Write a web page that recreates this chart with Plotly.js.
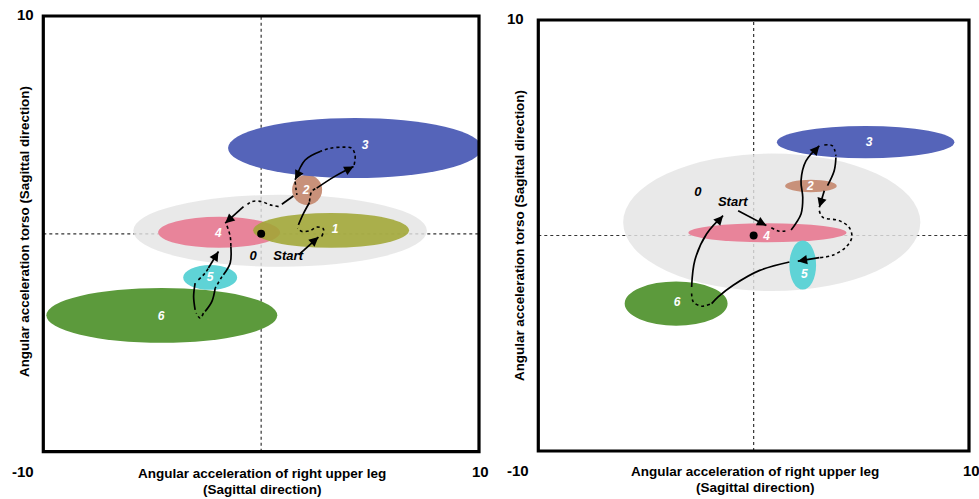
<!DOCTYPE html>
<html>
<head>
<meta charset="utf-8">
<script src="https://cdn.plot.ly/plotly-3.0.1.min.js"></script>
<style>html,body{margin:0;padding:0;background:#fff;}#chart{width:979px;height:499px;}</style>
</head>
<body>
<div id="chart"></div>
<script>
// ---------- DATA ----------
// Phase ellipses (centre, half-width, half-height) in data units, left panel
const L_phase = ['0', '4', '1', '2', '3', '5', '6'];
const L_cx = [0.87, -1.93, 3.21, 2.11, 4.31, -2.34, -4.56];
const L_cy = [0.14, 0.07, 0.16, 2.02, 3.94, -2.00, -3.74];
const L_rx = [6.74, 2.80, 3.58, 0.69, 5.83, 1.24, 5.30];
const L_ry = [1.65, 0.71, 0.80, 0.69, 1.38, 0.57, 1.26];
// label positions (left)
const L_lab = ['0', 'Start', '1', '2', '3', '4', '5', '6'];
const L_lx = [-0.37, 1.24, 3.39, 2.06, 4.77, -1.97, -2.34, -4.59];
const L_ly = [-1.06, -1.06, 0.18, 1.97, 4.04, 0.00, -2.02, -3.81];

// right panel
const R_phase = ['0', '4', '2', '3', '6', '5'];
const R_cx = [0.84, 0.64, 2.66, 5.20, -3.60, 2.28];
const R_cy = [0.61, 0.13, 2.30, 4.33, -3.16, -1.37];
const R_rx = [6.90, 3.67, 1.20, 4.12, 2.39, 0.62];
const R_ry = [3.19, 0.44, 0.29, 0.75, 1.03, 1.14];
const R_lab = ['0', 'Start', '2', '3', '4', '5', '6'];
const R_lx = [-2.59, -0.97, 2.63, 5.36, 0.60, 2.36, -3.56];
const R_ly = [1.99, 1.52, 2.26, 4.30, -0.05, -1.85, -3.14];

// Trajectory segments (solid = arrow, dot = dotted path), left panel
const L_segKind = ['solid', 'dot', 'solid', 'dot', 'solid', 'dot', 'solid', 'dot', 'solid', 'dot', 'solid', 'dot', 'solid', 'dot', 'solid', 'dot', 'solid', 'dot', 'solid'];
const L_segX = [
  [1.72, 2.63],
  [2.78, 2.86, 2.55, 2.25, 1.87, 1.67],
  [1.71, 1.95, 2.22],
  [2.22, 2.32, 2.55],
  [2.55, 3.40, 4.24],
  [4.27, 4.31, 4.16, 3.78, 3.17, 2.71],
  [2.71, 2.02, 1.56],
  [1.56, 1.60, 1.64],
  [1.48, 0.95],
  [0.80, 0.41, 0.03, -0.43, -0.73],
  [-0.81, -1.65],
  [-1.57, -1.42, -1.39],
  [-1.39, -1.42, -1.73],
  [-1.80, -2.11],
  [-2.11, -2.26, -2.57],
  [-2.65, -2.80, -2.98],
  [-3.03, -3.10, -3.03],
  [-2.88, -2.57, -2.42],
  [-2.42, -1.96]
];
const L_segY = [
  [-0.96, -0.15],
  [-0.12, 0.22, 0.31, 0.15, 0.11, 0.26],
  [0.41, 0.95, 1.44],
  [1.48, 1.94, 2.10],
  [2.10, 2.65, 3.09],
  [3.17, 3.62, 3.93, 3.98, 3.93, 3.78],
  [3.78, 3.39, 2.48],
  [2.40, 2.05, 1.79],
  [1.74, 1.36],
  [1.25, 1.33, 1.48, 1.48, 1.25],
  [1.25, 0.49],
  [0.37, -0.12, -0.58],
  [-0.58, -1.34, -1.88],
  [-1.96, -2.49],
  [-2.49, -3.10, -3.56],
  [-3.64, -3.87, -3.64],
  [-3.49, -2.88, -2.26],
  [-2.11, -1.80, -1.57],
  [-1.57, -0.81]
];
// right panel
const R_segKind = ['solid', 'dot', 'solid', 'dot', 'solid', 'solid', 'dot', 'solid', 'solid', 'dot', 'solid'];
const R_segX = [
  [-0.72, 0.59],
  [0.82, 1.20, 1.58],
  [1.74, 2.20, 2.28, 2.20, 2.43, 3.05],
  [3.28, 3.66, 3.82],
  [3.82, 3.74, 3.43],
  [3.28, 3.05],
  [3.05, 3.20, 3.97, 4.43, 4.56, 4.28, 3.66, 3.05],
  [3.05, 2.05],
  [1.66, 0.28, -0.95, -1.65, -1.95],
  [-2.03, -2.42, -2.80, -2.88],
  [-2.88, -2.73, -2.18, -1.42]
];
const R_segY = [
  [1.15, 0.46],
  [0.36, 0.20, 0.23],
  [0.26, 1.00, 1.77, 2.54, 3.46, 4.16],
  [4.20, 4.16, 3.70],
  [3.62, 3.00, 2.31],
  [2.08, 1.31],
  [1.15, 0.85, 0.69, 0.38, -0.08, -0.54, -0.92, -1.03],
  [-1.03, -1.19],
  [-1.23, -1.62, -2.31, -2.85, -3.16],
  [-3.19, -3.28, -3.08, -2.54],
  [-2.39, -1.15, 0.08, 0.92]
];
// segments ending with an arrowhead
const L_arrow = [0, 2, 4, 6, 8, 10, 12, 14, 16, 18];
const R_arrow = [0, 2, 4, 5, 7, 10];

// ---------- STYLE ----------
const colorOf = {
  '0': 'rgba(228,228,228,0.82)',
  '1': 'rgba(160,166,52,0.88)',
  '2': '#c8917a',
  '3': '#5564b9',
  '4': '#e8849a',
  '5': '#5fd3d6',
  '6': '#5c9a3c'
};

const shapes = [];
const annotations = [];
const traces = [];

function zeroLines(xr, yr) {
  shapes.push({type: 'line', xref: xr, yref: yr, x0: -10, x1: 10, y0: 0, y1: 0, layer: 'below',
    line: {color: '#333', width: 1.2, dash: 'dot'}});
  shapes.push({type: 'line', xref: xr, yref: yr, x0: 0, x1: 0, y0: -10, y1: 10, layer: 'below',
    line: {color: '#333', width: 1.2, dash: 'dot'}});
}
function ellipses(xr, yr, ph, cx, cy, rx, ry) {
  for (let i = 0; i < ph.length; i++) {
    shapes.push({type: 'circle', xref: xr, yref: yr, layer: 'below',
      x0: cx[i] - rx[i], x1: cx[i] + rx[i], y0: cy[i] - ry[i], y1: cy[i] + ry[i],
      fillcolor: colorOf[ph[i]], line: {width: 0}});
  }
}
function border(ax) {
  shapes.push({type: 'rect', xref: ax[0] + ' domain', yref: ax[1] + ' domain', x0: 0, x1: 1, y0: 0, y1: 1,
    layer: 'above', line: {color: '#000', width: 3.2}});
}
function paths(xa, ya, kind, sx, sy, arrows) {
  for (let i = 0; i < kind.length; i++) {
    traces.push({type: 'scatter', mode: 'lines', x: sx[i], y: sy[i], xaxis: xa, yaxis: ya,
      hoverinfo: 'skip', showlegend: false,
      line: {color: '#000', width: kind[i] === 'solid' ? 1.7 : 1.6, dash: kind[i] === 'solid' ? 'solid' : 'dot',
        shape: 'spline', smoothing: 1}});
  }
  const xr = xa === 'x' ? 'x' : 'x2', yr = ya === 'y' ? 'y' : 'y2';
  arrows.forEach(function (i) {
    const n = sx[i].length;
    const x1 = sx[i][n - 1], y1 = sy[i][n - 1];
    const x0 = sx[i][n - 2], y0 = sy[i][n - 2];
    const t = 0.25;
    annotations.push({xref: xr, yref: yr, axref: xr, ayref: yr, x: x1, y: y1,
      ax: x1 - (x1 - x0) * t, ay: y1 - (y1 - y0) * t, text: '', showarrow: true,
      arrowhead: 2, arrowsize: 1.1, arrowwidth: 1.7, arrowcolor: '#000', standoff: 0, startstandoff: 0});
  });
}
function labels(xa, ya, lab, lx, ly) {
  const white = [], wx = [], wy = [], black = [], bx = [], by = [];
  for (let i = 0; i < lab.length; i++) {
    if (lab[i] === '0' || lab[i] === 'Start') { black.push('<i>' + lab[i] + '</i>'); bx.push(lx[i]); by.push(ly[i]); }
    else { white.push('<i>' + lab[i] + '</i>'); wx.push(lx[i]); wy.push(ly[i]); }
  }
  traces.push({type: 'scatter', mode: 'text', x: wx, y: wy, text: white, xaxis: xa, yaxis: ya,
    hoverinfo: 'skip', showlegend: false,
    textfont: {family: 'Liberation Sans Narrow, Liberation Sans, Arial', size: 12, color: '#fff', weight: 'bold'}});
  traces.push({type: 'scatter', mode: 'text', x: bx, y: by, text: black, xaxis: xa, yaxis: ya,
    hoverinfo: 'skip', showlegend: false,
    textfont: {family: 'Liberation Sans Narrow, Liberation Sans, Arial', size: 13, color: '#000', weight: 'bold'}});
  traces.push({type: 'scatter', mode: 'markers', x: [0], y: [0], xaxis: xa, yaxis: ya,
    hoverinfo: 'skip', showlegend: false, marker: {color: '#000', size: 8}});
}

zeroLines('x', 'y');
ellipses('x', 'y', L_phase, L_cx, L_cy, L_rx, L_ry);
zeroLines('x2', 'y2');
ellipses('x2', 'y2', R_phase, R_cx, R_cy, R_rx, R_ry);
border(['x', 'y']);
border(['x2', 'y2']);
paths('x', 'y', L_segKind, L_segX, L_segY, L_arrow);
paths('x2', 'y2', R_segKind, R_segX, R_segY, R_arrow);
labels('x', 'y', L_lab, L_lx, L_ly);
labels('x2', 'y2', R_lab, R_lx, R_ly);

// axis / corner texts
const F = 'Liberation Sans, Arial, sans-serif';
const W = 979, H = 499;
function ptxt(text, px, py, size, rot) {
  annotations.push({xref: 'paper', yref: 'paper', x: px / W, y: 1 - py / H, xanchor: 'center', yanchor: 'middle',
    text: text, showarrow: false, textangle: rot || 0, font: {family: F, size: size, color: '#000', weight: 'bold'}});
}
const yTitle = 'Angular acceleration torso (Sagittal direction)';
const xTitle1 = 'Angular acceleration of right upper leg';
const xTitle2 = '(Sagittal direction)';
ptxt('10', 25, 14, 15); ptxt('-10', 23, 471, 15); ptxt('10', 480, 471, 15);
ptxt('10', 515, 18, 15); ptxt('-10', 518, 470, 15); ptxt('10', 971, 470, 15);
ptxt(yTitle, 24, 232, 13.4, -90);
ptxt(yTitle, 519, 236, 13.4, -90);
ptxt(xTitle1, 262, 473, 13.5); ptxt(xTitle2, 262, 489, 13.5);
ptxt(xTitle1, 755, 471, 13.5); ptxt(xTitle2, 755, 487, 13.5);

const axBase = {range: [-10, 10], showgrid: false, zeroline: false, showline: false, showticklabels: false, ticks: '', fixedrange: true};
const layout = {
  width: W, height: H,
  margin: {l: 0, r: 0, t: 0, b: 0},
  paper_bgcolor: '#fff', plot_bgcolor: 'rgba(0,0,0,0)',
  showlegend: false,
  xaxis: Object.assign({}, axBase, {domain: [43.3 / W, 479 / W], anchor: 'y'}),
  yaxis: Object.assign({}, axBase, {domain: [1 - 451.7 / H, 1 - 16 / H], anchor: 'x'}),
  xaxis2: Object.assign({}, axBase, {domain: [538.3 / W, 969 / W], anchor: 'y2'}),
  yaxis2: Object.assign({}, axBase, {domain: [1 - 451 / H, 1 - 20 / H], anchor: 'x2'}),
  shapes: shapes,
  annotations: annotations
};
Plotly.newPlot('chart', traces, layout, {displayModeBar: false, staticPlot: true});
</script>
</body>
</html>
